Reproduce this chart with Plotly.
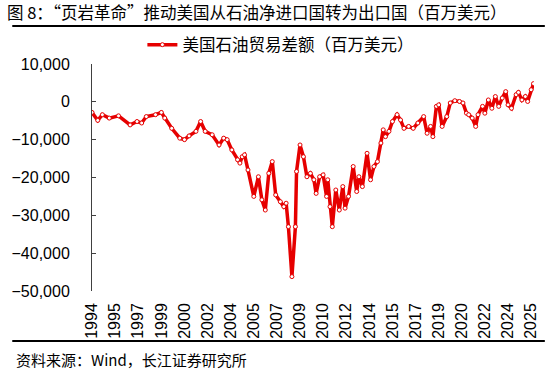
import plotly.graph_objects as go

# ---- data ----
months = [
    "1994-01", "1994-06", "1994-10", "1995-04", "1995-12", "1996-10", "1997-04", "1997-08",
    "1997-12", "1998-08", "1999-01", "1999-04", "1999-10", "2000-05", "2000-09", "2001-01",
    "2001-07", "2001-11", "2002-03", "2002-09", "2003-03", "2003-07", "2003-10", "2004-02",
    "2004-07", "2004-09", "2004-11", "2005-01", "2005-04", "2005-09", "2006-01", "2006-04",
    "2006-07", "2006-10", "2007-01", "2007-04", "2007-08", "2007-11", "2008-01", "2008-03",
    "2008-06", "2008-09", "2008-10", "2009-01", "2009-04", "2009-07", "2009-10", "2010-01",
    "2010-03", "2010-06", "2010-09", "2010-12", "2011-01", "2011-03", "2011-05", "2011-08",
    "2011-11", "2012-02", "2012-04", "2012-07", "2012-11", "2013-02", "2013-04", "2013-07",
    "2013-11", "2014-02", "2014-05", "2014-08", "2014-11", "2015-01", "2015-03", "2015-06",
    "2015-09", "2016-01", "2016-04", "2016-07", "2016-11", "2017-03", "2017-07", "2017-12",
    "2018-03", "2018-06", "2018-08", "2018-11", "2019-01", "2019-04", "2019-08", "2019-11",
    "2020-03", "2020-07", "2020-10", "2021-01", "2021-03", "2021-06", "2021-09", "2021-11",
    "2022-03", "2022-05", "2022-08", "2022-11", "2023-02", "2023-05", "2023-08", "2023-11",
    "2024-01", "2024-04", "2024-08", "2024-10", "2025-01", "2025-04", "2025-06", "2025-09",
    "2025-11",
]
balance = [
    -2800, -4900, -3400, -4300, -3700, -6100, -5200, -5600,
    -3900, -3400, -2800, -4300, -7000, -9600, -10000, -9000,
    -7800, -5200, -7800, -8700, -11400, -9600, -10000, -12700,
    -15300, -16200, -14500, -14000, -18000, -25000, -19800, -25900,
    -28600, -18900, -15800, -24600, -26400, -27700, -26800, -33000,
    -46200, -33000, -18400, -11400, -14500, -19800, -18900, -20600,
    -24200, -19800, -19300, -25000, -20600, -27700, -33000, -23300,
    -28600, -22400, -28100, -25000, -17100, -23700, -19800, -22400,
    -13600, -20600, -17100, -15800, -10900, -7400, -9200, -7800,
    -5200, -3400, -4800, -7000, -6500, -7000, -5600, -3900,
    -8300, -6500, -9200, -1200, -800, -6500, -3900, -300,
    300, 100, -300, -3000, -3400, -4300, -6500, -3400,
    -1200, -3000, 500, -1700, 1400, -1200, 1000, 2700,
    -800, -1700, 1900, 2500, 500, 1400, 100, 3200,
    4800,
]
series_name = "美国石油贸易差额（百万美元）"

tick_dates = [
    "1994-01-01", "1995-09-01", "1997-05-01", "1999-01-01", "2000-09-01",
    "2002-05-01", "2004-01-01", "2005-09-01", "2007-05-01", "2009-01-01",
    "2010-09-01", "2012-05-01", "2014-01-01", "2015-09-01", "2017-05-01",
    "2019-01-01", "2020-09-01", "2022-05-01", "2024-01-01", "2025-09-01",
]
tick_labels = [
    "1994", "1995", "1997", "1999", "2000", "2002", "2004", "2005", "2007", "2009",
    "2010", "2012", "2014", "2015", "2017", "2019", "2020", "2022", "2024", "2025",
]
y_ticks = [10000, 0, -10000, -20000, -30000, -40000, -50000]

title_text = "图 8：“页岩革命”推动美国从石油净进口国转为出口国（百万美元）"
source_text = "资料来源：Wind，长江证券研究所"

# ---- figure ----
RED = "#E60000"
AXIS = "#404040"
FONT = "Liberation Sans, Arial, Noto Sans CJK SC, sans-serif"
CJK = "Noto Sans CJK SC, Liberation Sans, sans-serif"
x_range = ["1994-01-01", "2025-11-15"]

fig = go.Figure()
fig.add_trace(go.Scatter(
    x=months, y=balance, name=series_name, mode="lines+markers",
    line=dict(color=RED, width=3.5),
    marker=dict(symbol="circle", size=4, color="white", line=dict(color=RED, width=1)),
    showlegend=True,
))

fig.update_layout(
    width=551, height=372,
    margin=dict(l=86, r=16, t=64, b=81),
    paper_bgcolor="white", plot_bgcolor="white",
    font=dict(family=FONT, size=16, color="#000000"),
    title=dict(text=title_text, x=7 / 551, xanchor="left", xref="container",
               y=1 - 13 / 372, yanchor="middle", yref="container",
               font=dict(family=CJK, size=16.5, color="#000000")),
    showlegend=True,
    legend=dict(orientation="h", x=0.114, xanchor="left", y=1.084, yanchor="middle",
                font=dict(family=CJK, size=16.5, color="#000000"),
                bgcolor="rgba(0,0,0,0)", itemwidth=30),
    xaxis=dict(type="date", range=x_range, tickmode="array", tickvals=tick_dates,
               ticktext=tick_labels, tickangle=-90, ticks="", showline=False,
               showgrid=False, zeroline=False, ticklabelstandoff=8,
               tickfont=dict(family=FONT, size=16, color="#000000")),
    xaxis2=dict(type="date", range=x_range, overlaying="x", anchor="free",
                position=50 / 60, side="top", tickmode="array", tickvals=tick_dates,
                showticklabels=False, ticks="outside", ticklen=5, tickcolor=AXIS,
                showline=True, linecolor=AXIS, linewidth=1, showgrid=False, zeroline=False),
    yaxis=dict(range=[-50000, 10000], tickmode="array", tickvals=y_ticks,
               tickformat=",", ticks="inside", ticklen=4, tickcolor=AXIS,
               showline=True, linecolor=AXIS, linewidth=1, showgrid=False,
               zeroline=False, ticklabelstandoff=18,
               tickfont=dict(family=FONT, size=16, color="#000000")),
)

# separator lines and source note
fig.add_shape(type="line", xref="paper", yref="paper",
              x0=(5 - 86) / 449, x1=(546 - 86) / 449, y0=(291 - 26) / 227, y1=(291 - 26) / 227,
              line=dict(color="#000000", width=2))
fig.add_shape(type="line", xref="paper", yref="paper",
              x0=(5 - 86) / 449, x1=(546 - 86) / 449, y0=(291 - 341) / 227, y1=(291 - 341) / 227,
              line=dict(color="#000000", width=2))
fig.add_annotation(text=source_text, xref="paper", yref="paper",
                   x=(7 - 86) / 449, y=(291 - 359) / 227, xanchor="left", yanchor="middle",
                   showarrow=False, font=dict(family=CJK, size=15, color="#000000"))

fig.write_html("out.html", config={"displayModeBar": False},
               post_script="document.body.style.margin='0';")
